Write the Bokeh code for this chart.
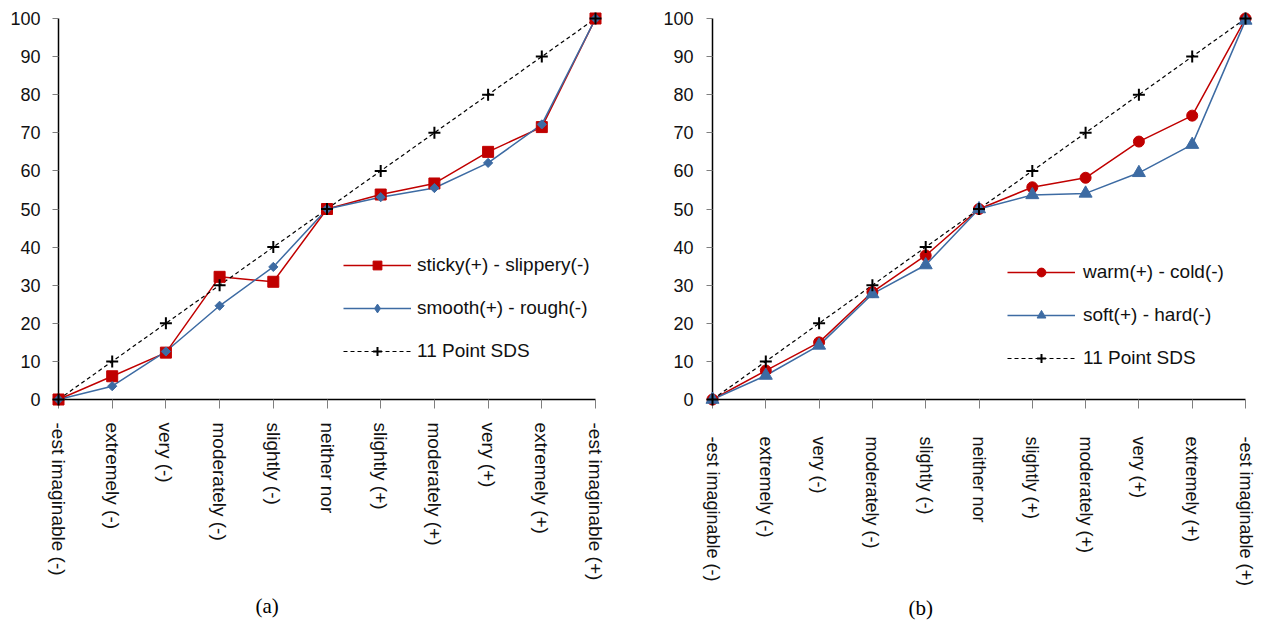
import math
from bokeh.plotting import figure
from bokeh.layouts import row
from bokeh.models import Range1d, FixedTicker, Legend, LegendItem, Title
from bokeh.embed import file_html
from bokeh.resources import INLINE

# ---------------- data ----------------
categories = ["-est imaginable (-)", "extremely (-)", "very (-)", "moderately (-)",
              "slightly (-)", "neither nor", "slightly (+)", "moderately (+)",
              "very (+)", "extremely (+)", "-est imaginable (+)"]
y_ticks = [0, 10, 20, 30, 40, 50, 60, 70, 80, 90, 100]

sticky = [0, 6.1, 12.3, 32.2, 30.9, 50, 53.8, 56.7, 65.0, 71.5, 100]
smooth = [0, 3.5, 12.6, 24.6, 34.8, 50, 53.1, 55.5, 62.1, 72.2, 100]
sds = [0, 10, 20, 30, 40, 50, 60, 70, 80, 90, 100]

warm = [0, 7.6, 15.0, 28.2, 37.8, 50, 55.7, 58.2, 67.7, 74.5, 100]
soft = [0, 6.3, 14.2, 27.7, 35.3, 50, 53.7, 54.1, 59.5, 66.9, 99.5]

RED = "#C00000"
BLUE = "#3D6BA3"
FONT = "Liberation Sans"


def make_panel(width, bl, br, bt, bb, y_standoff, x_label_size, x_standoff,
               caption, cap_offset, cap_standoff, red_vals, red_label, red_marker, red_size,
               blue_vals, blue_label, blue_marker, blue_size, blue_angle, blue_legend_marker,
               blue_legend_size, leg_loc, leg_standoff):
    xs = list(range(len(categories)))
    p = figure(width=width, height=627,
               x_range=Range1d(0, len(categories) - 1),
               y_range=Range1d(0, 100),
               output_backend="svg", toolbar_location=None,
               min_border_left=bl, min_border_right=br,
               min_border_top=bt, min_border_bottom=bb)
    p.xgrid.visible = False
    p.ygrid.visible = False
    p.outline_line_color = None
    p.background_fill_color = "white"
    p.border_fill_color = "white"

    # x axis
    xa = p.xaxis[0]
    xa.ticker = FixedTicker(ticks=xs)
    xa.major_label_overrides = {i: lab for i, lab in enumerate(categories)}
    xa.major_label_orientation = -math.pi / 2
    xa.minor_tick_line_color = None
    xa.major_tick_in = 0
    xa.major_tick_out = 9
    xa.major_tick_line_color = "#7f7f7f"
    xa.axis_line_color = "black"
    xa.axis_line_width = 1.5
    xa.major_label_text_font = FONT
    xa.major_label_text_font_size = x_label_size
    xa.major_label_text_color = "#111111"
    xa.major_label_standoff = x_standoff

    # y axis
    ya = p.yaxis[0]
    ya.ticker = FixedTicker(ticks=y_ticks)
    ya.minor_tick_line_color = None
    ya.major_tick_in = 0
    ya.major_tick_out = 6
    ya.major_tick_line_color = "#7f7f7f"
    ya.axis_line_color = "black"
    ya.axis_line_width = 1.5
    ya.major_label_text_font = FONT
    ya.major_label_text_font_size = "18px"
    ya.major_label_text_color = "#111111"
    ya.major_label_standoff = y_standoff

    # series
    rl = p.line(xs, red_vals, line_color=RED, line_width=1.5)
    rs = p.scatter(xs, red_vals, marker=red_marker, size=red_size,
                   fill_color=RED, line_color=RED, level="overlay")
    bl_ = p.line(xs, blue_vals, line_color=BLUE, line_width=1.5)
    bs = p.scatter(xs, blue_vals, marker=blue_marker, size=blue_size, angle=blue_angle,
                   fill_color=BLUE, line_color=BLUE, level="overlay")
    # legend-only twin of the blue markers (legend swatches ignore marker angle)
    bleg = p.scatter(xs, blue_vals, marker=blue_legend_marker, size=blue_legend_size,
                     fill_color=BLUE, line_color=BLUE, visible=False)
    kl = p.line(xs, sds, line_color="black", line_width=1.2, line_dash="4 3")
    ks = p.scatter(xs, sds, marker="cross", size=12, line_color="black", line_width=2,
                   level="overlay")

    legend = Legend(items=[
        LegendItem(label=red_label, renderers=[rl, rs]),
        LegendItem(label=blue_label, renderers=[bl_, bleg]),
        LegendItem(label="11 Point SDS", renderers=[kl, ks]),
    ], location=leg_loc, glyph_width=68, glyph_height=22, label_height=22,
        spacing=21, label_standoff=leg_standoff, padding=0, margin=0,
        border_line_alpha=0, background_fill_alpha=0,
        label_text_font=FONT, label_text_font_size="19px",
        label_text_color="#111111")
    p.add_layout(legend, "center")

    t = Title(text=caption, align="left", offset=cap_offset,
              text_font="Liberation Serif", text_font_size="21px",
              text_font_style="normal", text_color="black", standoff=cap_standoff)
    p.add_layout(t, "below")
    return p


pa = make_panel(640, 58, 45, 17, 227, 12, "19px", 14, "(a)", 197, 16,
                sticky, "sticky(+) - slippery(-)", "square", 11,
                smooth, "smooth(+) - rough(-)", "square", 6.5, math.pi / 4, "diamond", 11,
                (285, 37), 6)
pb = make_panel(632, 72, 27, 18, 228, 13, "18px", 28, "(b)", 196, 9,
                warm, "warm(+) - cold(-)", "circle", 11,
                soft, "soft(+) - hard(-)", "triangle", 13, 0, "triangle", 13,
                (295, 30), 8)

layout = row(pa, pb)
open("out.html", "w").write(file_html(layout, INLINE))
